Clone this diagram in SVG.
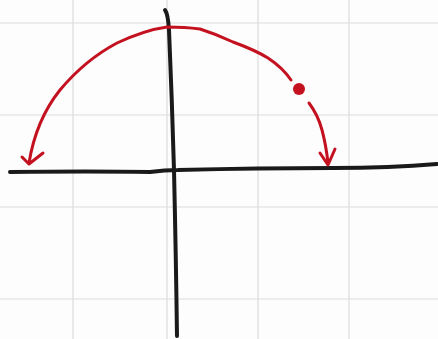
<svg xmlns="http://www.w3.org/2000/svg" width="438" height="339" viewBox="0 0 438 339">
<style>
.grid{stroke:#dcdcdc;stroke-width:1.2;fill:none}
.axis{stroke:#1a1a1a;stroke-width:4;fill:none;stroke-linecap:round;stroke-linejoin:round}
.red{stroke:#c4111f;stroke-width:3;fill:none;stroke-linecap:round;stroke-linejoin:round}
</style>
<rect width="438" height="339" fill="#fdfdfd"/>
<g id="grid">
<line class="grid" x1="73" y1="0" x2="73" y2="339"/>
<line class="grid" x1="167" y1="0" x2="167" y2="339"/>
<line class="grid" x1="258" y1="0" x2="258" y2="339"/>
<line class="grid" x1="349" y1="0" x2="349" y2="339"/>
<line class="grid" x1="0" y1="23" x2="438" y2="23"/>
<line class="grid" x1="0" y1="115" x2="438" y2="115"/>
<line class="grid" x1="0" y1="207" x2="438" y2="207"/>
<line class="grid" x1="0" y1="299" x2="438" y2="299"/>
</g>
<g id="axes">
<path class="axis" d="M165,10 Q168,14 169,30 Q172,100 174,170 Q176,260 177,336"/>
<path class="axis" d="M10,172 Q90,171 150,172 Q165,170 178,170 Q260,168 333,168 Q390,168 437,164"/>
</g>
<g id="connectors">
<path class="red" d="M29,163 Q36,120 60,90 Q85,60 117,43 Q145,30 167,27 Q185,27 200,29 Q216,34 233,42 Q255,50 268,58 Q283,68 291,80"/>
<path class="red" d="M22,157 L29,164 L43,153"/>
<path class="red" d="M309,103 Q318,115 322,130 Q326,145 328,163"/>
<path class="red" d="M320,153 L328,165 L335,149"/>
</g>
<g id="dot">
<circle cx="299" cy="89" r="6" fill="#c4111f"/>
</g>
</svg>
